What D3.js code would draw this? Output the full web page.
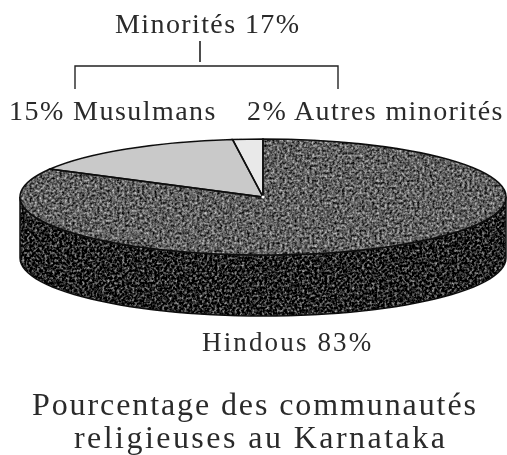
<!DOCTYPE html>
<html><head><meta charset="utf-8">
<script src="https://cdn.jsdelivr.net/npm/d3@7/dist/d3.min.js"></script>
<style>html,body{margin:0;background:#fff}svg{display:block}text{font-family:"Liberation Serif",serif;fill:#2a2a2a}</style>
</head><body><svg id="c" width="507" height="455"></svg>
<script>
const categories = ["Hindous","Musulmans","Autres minorités"];
const values = [83,15,2];
const fills = ["top","#c9c9c9","#e9e9e9"];
const topLabels = ["Minorités 17%"];
const sliceLabels = ["15% Musulmans","2% Autres minorités","Hindous 83%"];
const titleLines = ["Pourcentage des communautés","religieuses au Karnataka"];

const svg = d3.select("#c");
const cx=263, cy=197, rx=243, ry=58, depth=61;
const defs = svg.append("defs");
function noise(id, freq, seed, slope, intercept){
  const f = defs.append("filter").attr("id",id).attr("filterUnits","userSpaceOnUse").attr("x",0).attr("y",0).attr("width",507).attr("height",455).attr("color-interpolation-filters","sRGB");
  f.append("feTurbulence").attr("type","fractalNoise").attr("baseFrequency",freq).attr("numOctaves",2).attr("seed",seed).attr("result","n");
  f.append("feColorMatrix").attr("in","n").attr("type","matrix")
   .attr("values",`${slope} 0 0 0 ${intercept} ${slope} 0 0 0 ${intercept} ${slope} 0 0 0 ${intercept} 0 0 0 0 1`).attr("result","g");
  f.append("feGaussianBlur").attr("in","g").attr("stdDeviation",0.7).attr("result","b");
  f.append("feComposite").attr("in","b").attr("in2","SourceAlpha").attr("operator","in");
}
noise("topTex",0.4,4,1.15,-0.2);
noise("sideTex",0.4,9,1.5,-0.62);
defs.append("filter").attr("id","soft").append("feGaussianBlur").attr("stdDeviation",0.5);

const root = svg.append("g").attr("filter","url(#soft)");

// side wall
const t = d3.range(0,181,3).map(d=>d*Math.PI/180);
const x = a=>cx+rx*Math.cos(a), y = a=>cy+ry*Math.sin(a);
const wall = [...t.map(a=>[x(a),y(a)]), ...t.slice().reverse().map(a=>[x(a),y(a)+depth])];
const wallPath = d3.line()(wall)+"Z";
root.append("path").attr("d",wallPath).attr("fill","#222").attr("filter","url(#sideTex)");
root.append("path").attr("d",wallPath).attr("fill","none").attr("stroke","#111").attr("stroke-width",1.5);

// top face
const pie = d3.pie().sort(null).value(d=>d);
const arc = d3.arc().innerRadius(0).outerRadius(100);
const arcs = pie(values);
const place = `translate(${cx},${cy}) scale(${rx/100},${ry/100})`;
root.append("g").attr("filter","url(#topTex)").append("g").attr("transform",place)
  .selectAll("path").data(arcs.filter((d,i)=>fills[i]==="top")).join("path").attr("d",arc).attr("fill","#666");
const face = root.append("g").attr("transform",place);
face.selectAll("path.f").data(arcs.filter((d,i)=>fills[i]!=="top")).join("path").attr("class","f").attr("d",arc)
  .attr("fill",d=>fills[d.index]);
face.selectAll("path.s").data(arcs).join("path").attr("class","s").attr("d",arc)
  .attr("fill","none").attr("stroke","#111").attr("stroke-width",1.6).attr("vector-effect","non-scaling-stroke");
root.append("circle").attr("cx",cx).attr("cy",cy).attr("r",1.6).attr("fill","#fff");

// bracket
const line = d3.line();
root.append("path").attr("d",line([[75,89],[75,66],[338,66],[338,89]])).attr("fill","none").attr("stroke","#222").attr("stroke-width",1.4);
root.append("path").attr("d",line([[200,41],[200,62]])).attr("fill","none").attr("stroke","#222").attr("stroke-width",1.6);

// text
const txt=(s,xp,yp,size,ls)=>root.append("text").attr("x",xp).attr("y",yp).attr("font-size",size).attr("letter-spacing",ls).text(s);
txt(topLabels[0],115,33,28,1.4);
txt(sliceLabels[0],9,120,28,1.45);
txt(sliceLabels[1],247,120,28,1.4);
txt(sliceLabels[2],202,351,27,2.15);
txt(titleLines[0],32,415,32,1.9);
txt(titleLines[1],74,448,32,2.45);
</script></body></html>
